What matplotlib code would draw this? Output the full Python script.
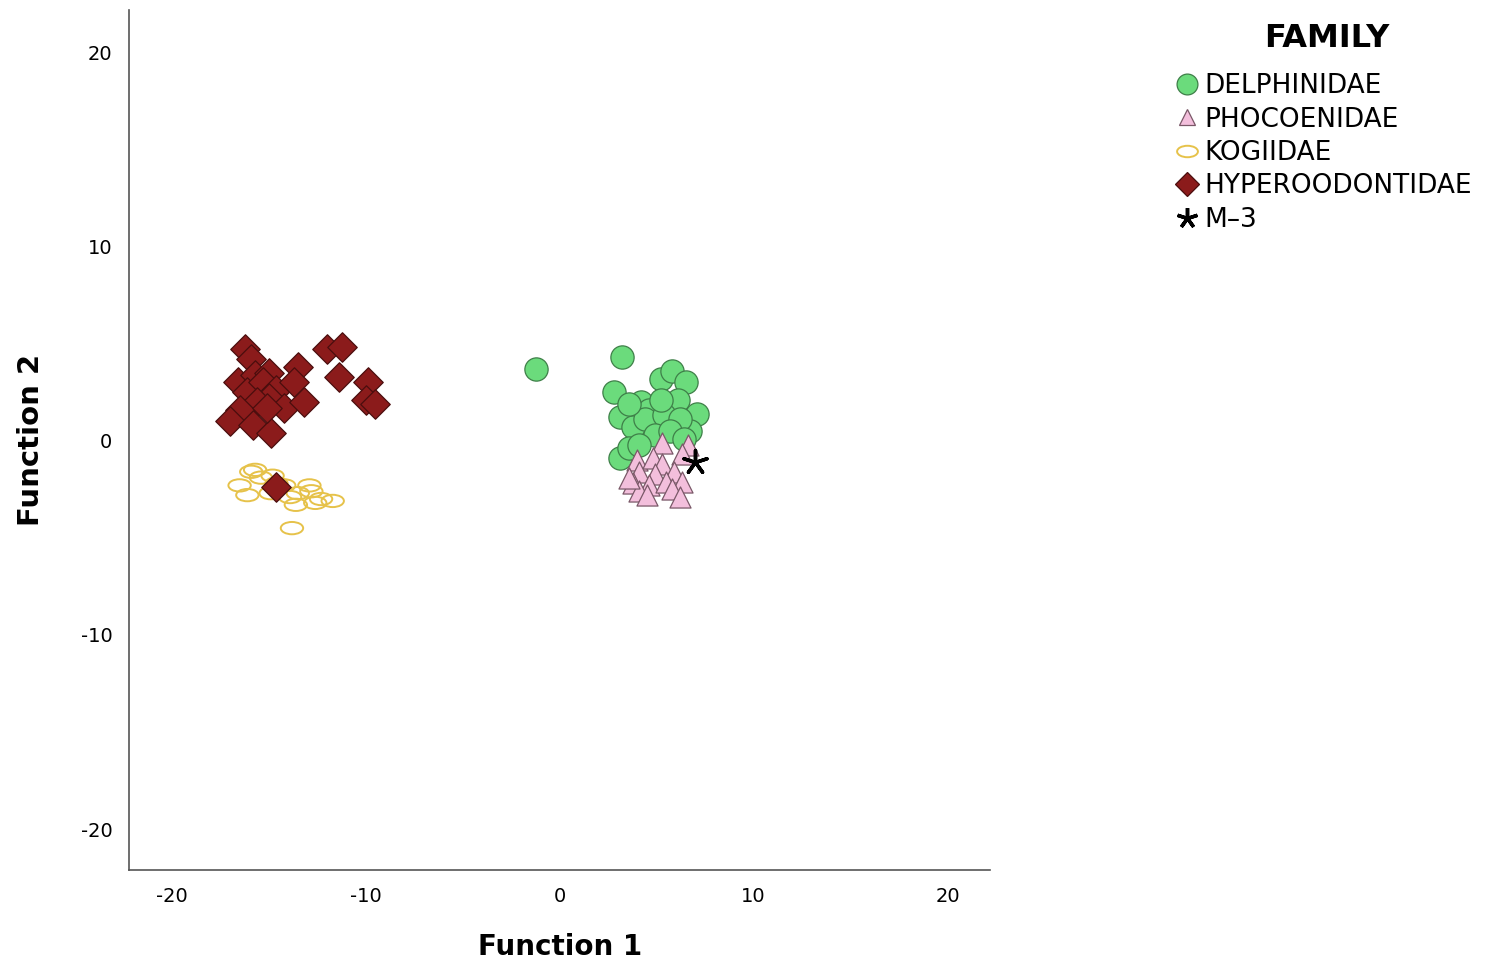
import matplotlib
matplotlib.use("Agg")
import matplotlib.pyplot as plt
from matplotlib.path import Path
from matplotlib.transforms import Affine2D
from matplotlib.lines import Line2D
import numpy as np

plt.rcParams['axes.unicode_minus'] = False

# ---- data ----
delph_x = [-1.2, 3.2, 2.8, 5.2, 5.8, 6.5, 6.1, 7.1, 6.7, 4.2, 4.6, 3.1, 3.8, 4.4, 5.4, 6.2, 3.1, 3.6, 4.9, 5.7, 4.1, 5.2, 3.6, 6.4]
delph_y = [3.7, 4.3, 2.5, 3.2, 3.6, 3.0, 2.1, 1.4, 0.5, 2.0, 1.6, 1.2, 0.7, 1.1, 1.3, 1.1, -0.9, -0.4, 0.3, 0.5, -0.2, 2.1, 1.9, 0.1]

phoc_x = [5.3, 6.6, 4.0, 4.8, 5.3, 6.3, 4.1, 4.9, 5.9, 3.8, 4.6, 5.5, 6.3, 4.1, 5.8, 6.2, 4.5, 3.6]
phoc_y = [-0.1, -0.2, -1.0, -0.9, -1.2, -0.7, -1.6, -1.7, -1.6, -2.2, -2.3, -2.1, -2.1, -2.6, -2.5, -2.9, -2.8, -1.9]

kogi_x = [-16.5, -16.1, -15.9, -15.7, -15.4, -14.8, -14.9, -14.2, -13.9, -13.6, -13.5, -12.9, -12.8, -12.6, -12.3, -11.7, -13.8, -14.6]
kogi_y = [-2.3, -2.8, -1.6, -1.5, -1.9, -1.8, -2.7, -2.3, -2.9, -3.3, -2.7, -2.3, -2.6, -3.2, -3.0, -3.1, -4.5, -2.2]

hyper_x = [-16.2, -15.9, -16.6, -15.7, -15.0, -16.1, -15.3, -14.6, -15.0, -15.6, -14.2, -16.5, -17.0, -15.8, -14.9, -13.5, -13.7, -13.2, -12.0, -11.2, -11.4, -9.9, -10.0, -9.5, -15.1, -14.6]
hyper_y = [4.7, 4.2, 3.0, 3.4, 3.5, 2.5, 3.0, 2.6, 2.2, 2.0, 1.7, 1.6, 1.0, 0.8, 0.4, 3.8, 3.0, 2.0, 4.7, 4.8, 3.3, 3.0, 2.1, 1.9, 1.7, -2.4]

m3_x = [7.0]
m3_y = [-1.1]

families = ["DELPHINIDAE", "PHOCOENIDAE", "KOGIIDAE", "HYPEROODONTIDAE", "M\u20133"]
ticks = [-20, -10, 0, 10, 20]

# ---- figure ----
fig = plt.figure(figsize=(14.9, 9.63), dpi=100)
ax = fig.add_axes([0.0866, 0.0966, 0.578, 0.8935])

ellipse = Path.unit_circle().transformed(Affine2D().scale(1.0, 0.55))

G_FACE, G_EDGE = '#6BDB7C', '#3E7F48'
P_FACE, P_EDGE = '#F3BFDC', '#7A5868'
K_EDGE = '#E6C24A'
H_FACE, H_EDGE = '#8B1B1B', '#4A0E0E'

ax.scatter(delph_x, delph_y, s=280, marker='o', facecolor=G_FACE,
           edgecolor=G_EDGE, linewidth=0.9, zorder=3)
ax.scatter(phoc_x, phoc_y, s=230, marker='^', facecolor=P_FACE,
           edgecolor=P_EDGE, linewidth=0.9, zorder=4)
ax.scatter(kogi_x, kogi_y, s=260, marker=ellipse, facecolor='none',
           edgecolor=K_EDGE, linewidth=1.4, zorder=3)
ax.scatter(hyper_x, hyper_y, s=225, marker='D', facecolor=H_FACE,
           edgecolor=H_EDGE, linewidth=0.9, zorder=4)
ax.scatter(m3_x, m3_y, s=300, marker=(5, 2, 0), color='black',
           linewidth=2.5, zorder=5)

ax.set_xlim(-22.2, 22.2)
ax.set_ylim(-22.1, 22.2)
ax.set_xticks(ticks)
ax.set_yticks(ticks)
ax.tick_params(length=0, labelsize=14, pad=12)
ax.spines['top'].set_visible(False)
ax.spines['right'].set_visible(False)
for s in ['left', 'bottom']:
    ax.spines[s].set_color('#555555')
    ax.spines[s].set_linewidth(1.2)

ax.set_ylabel("Function 2", fontsize=21, fontweight='bold')
ax.yaxis.set_label_coords(-0.098, 0.5)
ax.set_xlabel("Function 1", fontsize=20, fontweight='bold')
ax.xaxis.set_label_coords(0.5, -0.073)

# legend
hs = [
    Line2D([], [], ls='none', marker='o', markersize=15, markerfacecolor=G_FACE, markeredgecolor=G_EDGE, markeredgewidth=0.9),
    Line2D([], [], ls='none', marker='^', markersize=12, markerfacecolor=P_FACE, markeredgecolor=P_EDGE, markeredgewidth=0.9),
    Line2D([], [], ls='none', marker=ellipse, markersize=15, markerfacecolor='none', markeredgecolor=K_EDGE, markeredgewidth=1.4),
    Line2D([], [], ls='none', marker='D', markersize=12, markerfacecolor=H_FACE, markeredgecolor=H_EDGE, markeredgewidth=0.9),
    Line2D([], [], ls='none', marker=(5, 2, 0), markersize=15, color='black', markeredgewidth=2.5),
]
fig.text(0.8906, 0.960, "FAMILY", fontsize=23, fontweight='bold', ha='center', va='center')
leg = fig.legend(hs, families, loc='upper left',
                 bbox_to_anchor=(0.789, 0.924), frameon=False,
                 fontsize=19, handletextpad=0.2,
                 labelspacing=0.28, handlelength=0.9,
                 borderaxespad=0, borderpad=0)

fig.savefig("out.png", dpi=100)
